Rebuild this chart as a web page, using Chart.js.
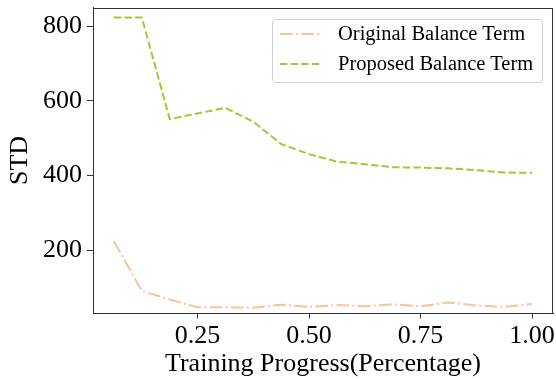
<!DOCTYPE html>
<html>
<head>
<meta charset="utf-8">
<script src="https://cdn.jsdelivr.net/npm/chart.js@4.4.1/dist/chart.umd.min.js"></script>
<style>
  html, body { margin: 0; padding: 0; background: #fff; }
  #wrap { position: relative; width: 556px; height: 379px; }
  #legend { position: absolute; left: 272px; top: 18.5px; width: 269px; height: 62px;
    border: 1px solid #d0d0d0; border-radius: 4px; background: rgba(255,255,255,0.8);
    font-family: 'Liberation Serif', 'Times New Roman', serif; font-size: 20.5px; color: #000; }
  .row { position: absolute; left: 0; height: 24px; display: flex; align-items: center; }
  .row svg { margin-left: 7px; margin-right: 17px; }
</style>
</head>
<body>
<div id="wrap">
  <canvas id="c" width="556" height="379"></canvas>
  <div id="legend"></div>
</div>
<script>
const progress = [0.0625, 0.125, 0.1875, 0.25, 0.3125, 0.375, 0.4375, 0.5, 0.5625, 0.625, 0.6875, 0.75, 0.8125, 0.875, 0.9375, 1.0];
const originalBalance = [224, 91, 68, 47, 47, 46, 54, 48, 53, 50, 55, 50, 60, 52, 48, 56];
const proposedBalance = [823, 823, 551, 566, 581, 544, 484, 457, 437, 430, 422, 421, 419, 414, 408, 407];
const seriesNames = ['Original Balance Term', 'Proposed Balance Term'];
const xTicks = [0.25, 0.5, 0.75, 1.0];
const yTicks = [200, 400, 600, 800];
const xLabel = 'Training Progress(Percentage)';
const yLabel = 'STD';

const colors = ['rgba(244,164,96,0.65)', '#9acd32'];
const dashes = [[12.8, 3.2, 2, 3.2], [7.4, 3.2]];
const FONT = "'Liberation Serif', 'Times New Roman', serif";
const AX = '#333';

const mk = (vals) => progress.map((x, i) => ({ x: x, y: vals[i] }));

const frame = {
  id: 'frame',
  afterDatasetsDraw(chart) {
    const a = chart.chartArea, ctx = chart.ctx;
    ctx.save();
    ctx.strokeStyle = AX; ctx.lineWidth = 1;
    ctx.strokeRect(Math.round(a.left) + 0.5, Math.round(a.top) + 0.5, Math.round(a.right - a.left) - 1, Math.round(a.bottom - a.top) - 1);
    ctx.restore();
  }
};

new Chart(document.getElementById('c'), {
  type: 'line',
  data: {
    datasets: [
      { label: seriesNames[0], data: mk(originalBalance), borderColor: colors[0], borderWidth: 2, borderDash: dashes[0], pointRadius: 0, fill: false, tension: 0 },
      { label: seriesNames[1], data: mk(proposedBalance), borderColor: colors[1], borderWidth: 2, borderDash: dashes[1], pointRadius: 0, fill: false, tension: 0 }
    ]
  },
  options: {
    responsive: false, animation: false, devicePixelRatio: 1,
    layout: { padding: { top: 7.5, right: 3, left: 0, bottom: 0 } },
    plugins: { legend: { display: false }, tooltip: { enabled: false } },
    scales: {
      x: {
        type: 'linear', min: 0.015625, max: 1.046875,
        afterBuildTicks: (s) => { s.ticks = xTicks.map(v => ({ value: v })); },
        afterFit: (s) => { s.height = 65.5; s.paddingLeft = 0; s.paddingRight = 0; },
        grid: { display: true, drawOnChartArea: false, drawTicks: true, tickLength: 5, color: AX },
        border: { display: true, color: AX, width: 1 },
        ticks: { color: '#000', font: { family: FONT, size: 26 }, padding: 2, maxRotation: 0, callback: (v) => Number(v).toFixed(2) },
        title: { display: true, text: xLabel, color: '#000', font: { family: FONT, size: 26, lineHeight: 1 }, padding: { top: 0, bottom: 2 } }
      },
      y: {
        type: 'linear', min: 30.5, max: 849.6,
        afterBuildTicks: (s) => { s.ticks = yTicks.map(v => ({ value: v })); },
        afterFit: (s) => { s.width = 93; s.paddingTop = 0; s.paddingBottom = 0; },
        grid: { display: true, drawOnChartArea: false, drawTicks: true, tickLength: 6, color: AX },
        border: { display: true, color: AX, width: 1 },
        ticks: { color: '#000', font: { family: FONT, size: 26 }, padding: 5 },
        title: { display: true, text: yLabel, color: '#000', font: { family: FONT, size: 26, lineHeight: 1 }, padding: { top: 7, bottom: 0 } }
      }
    }
  },
  plugins: [frame]
});

// legend (HTML text)
const leg = document.getElementById('legend');
seriesNames.forEach((name, i) => {
  const row = document.createElement('div');
  row.className = 'row';
  row.style.top = (i === 0 ? 2 : 32) + 'px';
  row.innerHTML = '<svg width="41" height="6"><line x1="0" y1="3" x2="41" y2="3" stroke="' + colors[i] + '" stroke-width="2" stroke-dasharray="' + dashes[i].join(',') + '"/></svg><span>' + name + '</span>';
  leg.appendChild(row);
});
</script>
</body>
</html>
